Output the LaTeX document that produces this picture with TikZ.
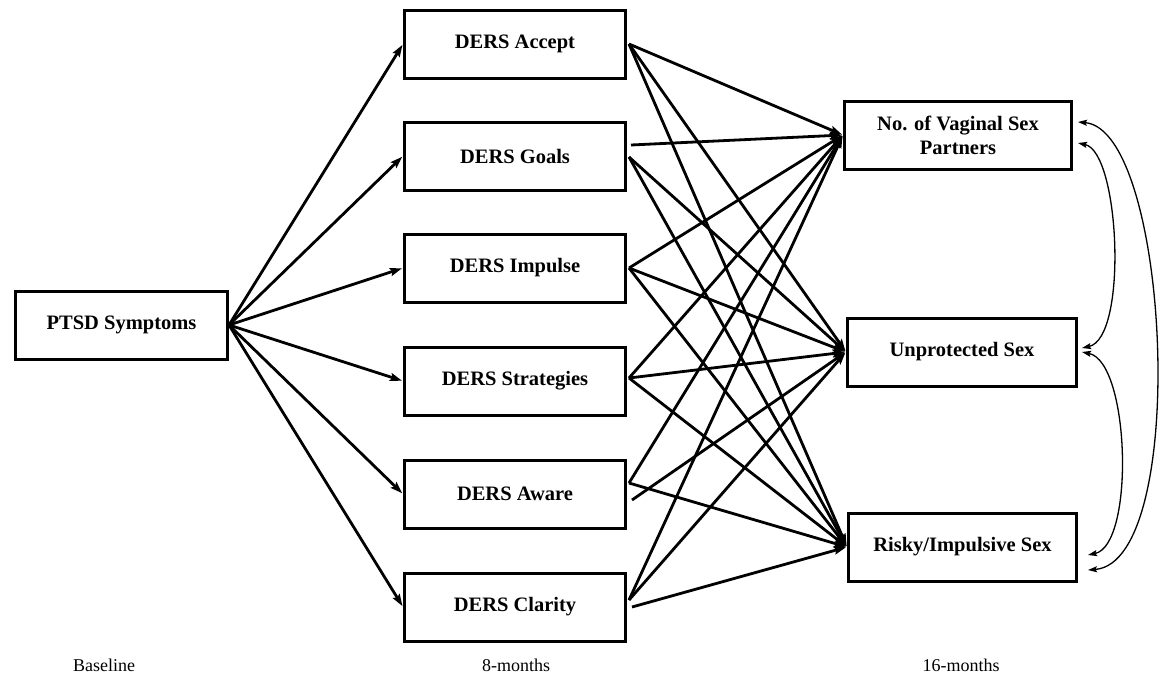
\documentclass[tikz,border=0pt]{standalone}
\usepackage{fontspec}
\setmainfont{Liberation Serif}
\usetikzlibrary{arrows.meta}
\begin{document}
\begin{tikzpicture}[x=1pt,y=-1pt,
  box/.style={draw, line width=3pt, minimum width=221pt, minimum height=68pt, inner sep=0pt,
    font=\fontsize{20.5}{24}\selectfont\bfseries, align=center},
  pth/.style={line width=2.8pt, shorten >=1pt, -{Stealth[length=12pt,width=8pt,inset=2pt]}},
  cov/.style={line width=1.3pt, {Stealth[length=9pt,width=6pt,inset=1.5pt]}-{Stealth[length=9pt,width=6pt,inset=1.5pt]}},
  lab/.style={font=\fontsize{18}{21}\selectfont}]
\useasboundingbox[fill=white] (0,0) rectangle (1164,681);

\node[box, minimum width=212pt] (ptsd) at (121.5,325) {PTSD Symptoms};

\node[box] (acc) at (515,44) {DERS Accept};
\node[box] (goa) at (515,156) {DERS Goals};
\node[box] (imp) at (515,268) {DERS Impulse};
\node[box] (str) at (515,381) {DERS Strategies};
\node[box] (awa) at (515,494) {DERS Aware};
\node[box] (cla) at (515,607) {DERS Clarity};

\node[box, minimum width=227pt] (vag) at (958,135) {No. of Vaginal Sex\\Partners};
\node[box, minimum width=229pt] (unp) at (962,352) {Unprotected Sex};
\node[box, minimum width=228pt] (rsk) at (962.5,547) {Risky/Impulsive Sex};

\node[lab] (base) at (104,665) {Baseline};
\node[lab] (eight) at (516,665) {8-months};
\node[lab] (sixteen) at (961,665) {16-months};

% PTSD -> DERS
\foreach \t in {acc,goa,imp,str,awa,cla}
  \draw[pth] (ptsd.east) -- (\t.west);

% DERS -> outcomes
\draw[pth] ([xshift=2pt]acc.east) -- (vag.west);
\draw[pth] ([xshift=2pt]acc.east) -- (unp.west);
\draw[pth] ([xshift=2pt]acc.east) -- (rsk.west);

\draw[pth] ([xshift=4pt,yshift=11pt]goa.east) -- (vag.west);
\draw[pth] ([xshift=2pt,yshift=-1pt]goa.east) -- (unp.west);
\draw[pth] ([xshift=2pt,yshift=-1pt]goa.east) -- (rsk.west);

\draw[pth] ([xshift=2pt]imp.east) -- (vag.west);
\draw[pth] ([xshift=2pt]imp.east) -- (unp.west);
\draw[pth] ([xshift=2pt]imp.east) -- (rsk.west);

\draw[pth] ([xshift=2pt,yshift=3pt]str.east) -- (vag.west);
\draw[pth] ([xshift=2pt,yshift=3pt]str.east) -- (unp.west);
\draw[pth] ([xshift=2pt,yshift=3pt]str.east) -- (rsk.west);

\draw[pth] ([xshift=2pt,yshift=11pt]awa.east) -- (vag.west);
\draw[pth] ([xshift=5pt,yshift=-6pt]awa.east) -- (unp.west);
\draw[pth] ([xshift=2pt,yshift=11pt]awa.east) -- (rsk.west);

\draw[pth] ([xshift=2pt,yshift=7pt]cla.east) -- (vag.west);
\draw[pth] ([xshift=2pt,yshift=7pt]cla.east) -- (unp.west);
\draw[pth] ([xshift=5pt]cla.east) -- (rsk.west);

% covariances
\draw[cov] ([xshift=5pt,yshift=13pt]vag.east) .. controls (1170,130) and (1190,562) .. ([xshift=10pt,yshift=-23pt]rsk.east);
\draw[cov] ([xshift=5pt,yshift=-8pt]vag.east) .. controls (1120,152) and (1128,338) .. ([xshift=4pt,yshift=4pt]unp.east);
\draw[cov] ([xshift=4pt,yshift=0pt]unp.east) .. controls (1130,362) and (1135,545) .. ([xshift=10pt,yshift=-8pt]rsk.east);
\end{tikzpicture}
\end{document}
